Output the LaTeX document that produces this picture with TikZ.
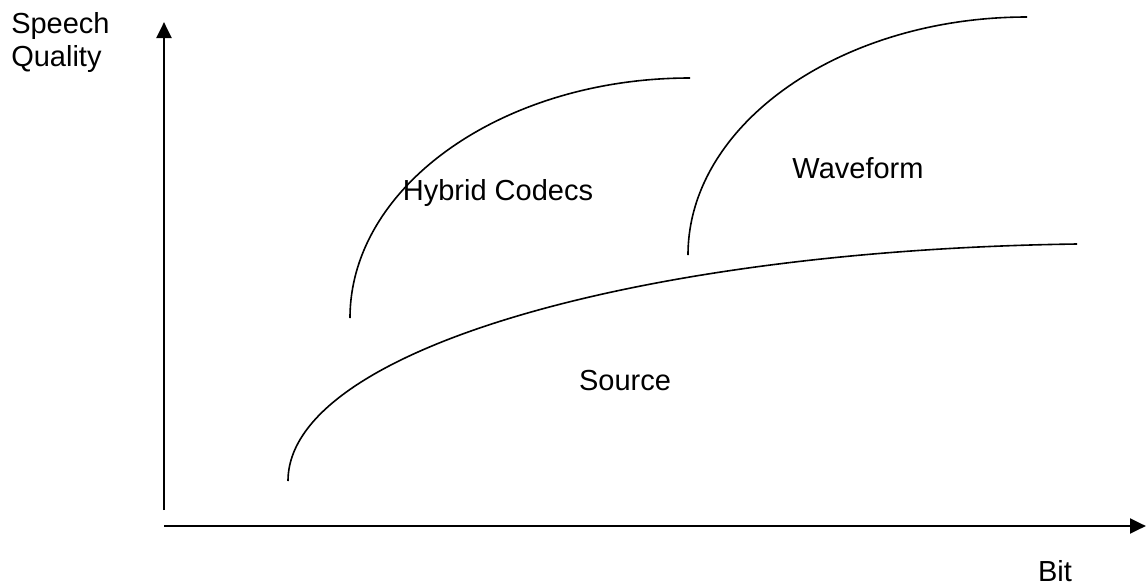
\documentclass[tikz,border=0pt]{standalone}
\usepackage{fontspec}
\setmainfont{Liberation Sans}
\usetikzlibrary{arrows.meta}
\begin{document}
\begin{tikzpicture}[x=0.75pt,y=-0.75pt,
  axis/.style={line width=2.2pt,-{Triangle[length=12pt,width=11pt]}},
  curve/.style={line width=1.2pt},
  lbl/.style={inner sep=0pt,font=\fontsize{21.75}{24.75}\selectfont}]
\useasboundingbox (0,0) rectangle (1146,586);
\coordinate (o) at (164,526);
\coordinate (ybot) at (164,510);
\coordinate (ytop) at (164,22);
\coordinate (xl) at (164,526);
\coordinate (xr) at (1146,526);
\draw[axis] (ybot) -- (ytop);
\draw[axis] (xl) -- (xr);
% curves
\coordinate (s0) at (288,481);
\coordinate (s1) at (1077,244);
\coordinate (h0) at (350,318);
\coordinate (h1) at (690,78);
\coordinate (w0) at (688,255);
\coordinate (w1) at (1027,17);
\draw[curve] (s0) .. controls (288,350) and (640,250) .. (s1);
\draw[curve] (h0) .. controls (350,186) and (503,78) .. (h1);
\draw[curve] (w0) .. controls (688,124) and (841,17) .. (w1);
% labels
\node[lbl,anchor=north west,align=left] (yl) at (11,12) {Speech\\Quality};
\node[lbl] (hyb) at (498,193) {Hybrid Codecs};
\node[lbl] (wav) at (858,168) {Waveform};
\node[lbl] (src) at (625,381) {Source};
\node[lbl] (bit) at (1055,571) {Bit};
\end{tikzpicture}
\end{document}
